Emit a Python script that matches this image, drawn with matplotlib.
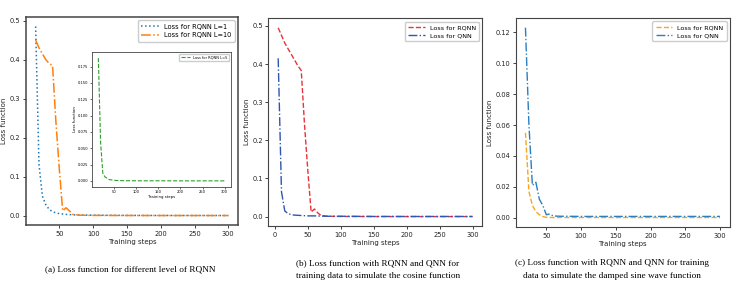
import matplotlib
matplotlib.use("Agg")
import matplotlib.pyplot as plt

# ---------- data ----------
# panel (a)
steps_a_l1 = [15, 20, 25, 30, 35, 40, 45, 50, 60, 70, 80, 100, 150, 200, 250, 300]
loss_a_l1 = [0.485, 0.13, 0.05, 0.028, 0.016, 0.010, 0.007, 0.005, 0.003, 0.002,
             0.0015, 0.001, 0.0005, 0.0003, 0.0002, 0.0002]
steps_a_l10 = [15, 20, 25, 30, 35, 40, 45, 50, 55, 60, 65, 70, 80, 100, 150, 200, 250, 300]
loss_a_l10 = [0.45, 0.43, 0.415, 0.40, 0.39, 0.385, 0.24, 0.12, 0.012, 0.02, 0.012,
              0.003, 0.001, 0.0005, 0.0002, 0.0001, 0.0001, 0.0001]
steps_a_l5 = [15, 20, 25, 30, 35, 40, 50, 60, 80, 100, 150, 200, 250, 300]
loss_a_l5 = [0.188, 0.06, 0.012, 0.006, 0.004, 0.002, 0.001, 0.0005, 0.0003, 0.0002,
             0.0002, 0.0001, 0.0001, 0.0001]

# panel (b)
steps_b_rqnn = [5, 10, 15, 20, 25, 30, 35, 40, 45, 50, 55, 60, 65, 70, 80, 100, 150, 200, 250, 300]
loss_b_rqnn = [0.495, 0.475, 0.455, 0.44, 0.425, 0.41, 0.395, 0.383, 0.24, 0.12, 0.012,
               0.02, 0.01, 0.003, 0.001, 0.0005, 0.0003, 0.0002, 0.0002, 0.0002]
steps_b_qnn = [5, 10, 15, 20, 25, 30, 40, 50, 60, 80, 100, 150, 200, 250, 300]
loss_b_qnn = [0.415, 0.065, 0.015, 0.008, 0.005, 0.004, 0.003, 0.002, 0.002, 0.001,
              0.001, 0.0005, 0.0005, 0.0005, 0.0005]

# panel (c)
steps_c_rqnn = [20, 25, 30, 35, 40, 45, 50, 60, 80, 100, 150, 200, 250, 300]
loss_c_rqnn = [0.055, 0.017, 0.008, 0.004, 0.002, 0.0008, 0.0003, 0.0002, 0.0002,
               0.0002, 0.0002, 0.0002, 0.0002, 0.0002]
steps_c_qnn = [20, 25, 30, 35, 40, 45, 50, 55, 60, 70, 80, 100, 150, 200, 250, 300]
loss_c_qnn = [0.123, 0.06, 0.021, 0.023, 0.012, 0.008, 0.002, 0.0025, 0.0012, 0.001,
              0.001, 0.0009, 0.0009, 0.0009, 0.0009, 0.0009]

captions = [
    "(a) Loss function for different level of RQNN",
    "(b) Loss function with RQNN and QNN for\ntraining data to simulate the cosine function",
    "(c) Loss function with RQNN and QNN for training\ndata to simulate the damped sine wave function",
]

# ---------- style ----------
plt.rcParams['font.family'] = ['DejaVu Sans']
TICK = 4.8
LAB = 5.0
LEG = 4.6
SPINE = '#444444'

fig = plt.figure(figsize=(7.47, 3.07), dpi=100)

def style(ax, fs=TICK, lab=LAB, lw=0.8):
    ax.tick_params(labelsize=fs, length=2.5, width=0.6, pad=1.5, colors='#222222')
    for s in ax.spines.values():
        s.set_color(SPINE)
        s.set_linewidth(lw)
    ax.set_xlabel("Training steps", fontsize=lab, labelpad=1.5, color='#222222')
    ax.set_ylabel("Loss function", fontsize=lab, labelpad=2, color='#222222')

# panel a
axa = fig.add_axes([0.0348, 0.2671, 0.2838, 0.6775])
axa.plot(steps_a_l1, loss_a_l1, ':', color='#1f77b4', lw=1.1, label='Loss for RQNN L=1')
axa.plot(steps_a_l10, loss_a_l10, '-.', color='#ff7f0e', lw=1.1, label='Loss for RQNN L=10')
axa.set_xticks([50, 100, 150, 200, 250, 300])
axa.set_yticks([0.0, 0.1, 0.2, 0.3, 0.4, 0.5])
style(axa, lw=1.1)
axa.legend(loc='upper right', fontsize=LEG + 0.2, handlelength=2.6, borderpad=0.5,
           labelspacing=0.4, framealpha=1, edgecolor='#cccccc')

# inset
axi = fig.add_axes([0.1232, 0.3909, 0.1861, 0.4397])
axi.plot(steps_a_l5, loss_a_l5, '--', color='#2ca02c', lw=0.8, label='Loss for RQNN L=5')
axi.set_xticks([50, 100, 150, 200, 250, 300])
axi.set_yticks([0.0, 0.025, 0.05, 0.075, 0.1, 0.125, 0.15, 0.175])
axi.set_yticklabels(['0.000', '0.025', '0.050', '0.075', '0.100', '0.125', '0.150', '0.175'])
axi.tick_params(labelsize=2.6, length=1.5, width=0.4, pad=1)
for s in axi.spines.values():
    s.set_color(SPINE)
    s.set_linewidth(0.6)
axi.set_xlabel("Training steps", fontsize=2.8, labelpad=0.5)
axi.set_ylabel("Loss function", fontsize=2.8, labelpad=1)
axi.legend(loc='upper right', fontsize=2.6, handlelength=2.6, framealpha=1,
           edgecolor='#cccccc', borderpad=0.5)

# panel b
axb = fig.add_axes([0.3594, 0.2638, 0.2862, 0.6765])
axb.plot(steps_b_rqnn, loss_b_rqnn, '--', color='#e8333a', lw=1.0, label='Loss for RQNN')
axb.plot(steps_b_qnn, loss_b_qnn, '-.', color='#2f55b0', lw=1.0, label='Loss for QNN')
axb.set_xticks([0, 50, 100, 150, 200, 250, 300])
axb.set_yticks([0.0, 0.1, 0.2, 0.3, 0.4, 0.5])
style(axb)
axb.legend(loc='upper right', fontsize=LEG, handlelength=2.6, borderpad=0.5,
           labelspacing=0.4, framealpha=1, edgecolor='#cccccc')

# panel c
axc = fig.add_axes([0.6904, 0.2606, 0.2865, 0.680])
axc.plot(steps_c_rqnn, loss_c_rqnn, '--', color='#f5a623', lw=1.0, label='Loss for RQNN')
axc.plot(steps_c_qnn, loss_c_qnn, '-.', color='#2a7fc0', lw=1.0, label='Loss for QNN')
axc.set_xticks([50, 100, 150, 200, 250, 300])
axc.set_yticks([0.0, 0.02, 0.04, 0.06, 0.08, 0.10, 0.12])
axc.set_yticklabels(['0.00', '0.02', '0.04', '0.06', '0.08', '0.10', '0.12'])
style(axc)
axc.legend(loc='upper right', fontsize=LEG, handlelength=2.6, borderpad=0.5,
           labelspacing=0.4, framealpha=1, edgecolor='#cccccc')

# captions
cap_kw = dict(family=['Liberation Serif'], fontsize=6.7, ha='center', va='center',
              linespacing=1.75)
fig.text(130 / 747, 1 - 269 / 307, captions[0], **cap_kw)
fig.text(378 / 747, 1 - 269.5 / 307, captions[1], **cap_kw)
fig.text(612 / 747, 1 - 269.5 / 307, captions[2], **cap_kw)

fig.savefig("out.png", dpi=100)
